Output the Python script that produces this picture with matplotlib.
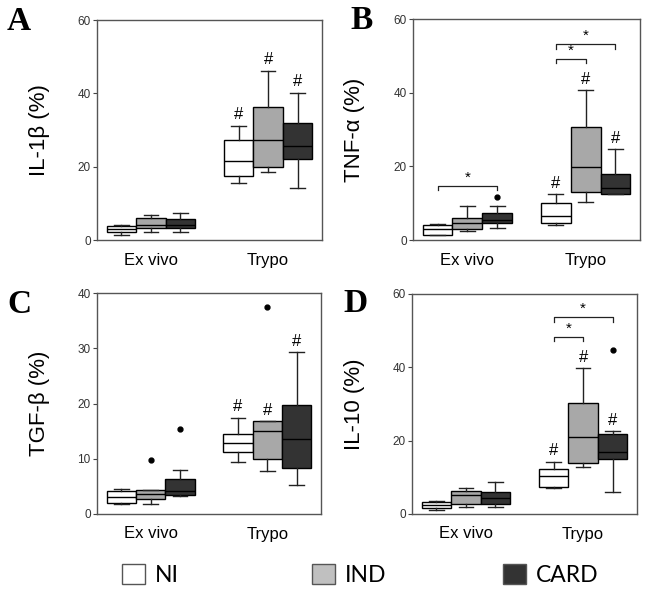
import numpy as np
import matplotlib
matplotlib.use('Agg')
import matplotlib.pyplot as plt
from matplotlib.patches import Patch

plt.rcParams['font.family'] = 'Liberation Sans'

groups = ['Ex vivo', 'Trypo']
series = ['NI', 'IND', 'CARD']
box_colors = ['#ffffff', '#a8a8a8', '#333333']
legend_colors = ['#ffffff', '#c0c0c0', '#333333']

# per box: [whisker low, q1, median, q3, whisker high]
# order: Ex vivo NI, IND, CARD, Trypo NI, IND, CARD
il1b = [[1.5, 2.3, 2.9, 3.8, 4.0],
        [2.2, 3.3, 4.0, 6.0, 6.8],
        [2.1, 3.3, 4.0, 5.7, 7.5],
        [15.5, 17.5, 21.5, 27.3, 31.1],
        [18.5, 19.9, 27.3, 36.3, 46.2],
        [14.3, 22.2, 25.6, 32.0, 40.2]]
tnfa = [[1.4, 1.4, 2.9, 4.0, 4.3],
        [2.5, 2.9, 4.5, 5.9, 9.3],
        [3.2, 4.6, 5.4, 7.2, 9.3],
        [4.0, 4.7, 6.5, 10.0, 12.4],
        [10.2, 13.1, 19.8, 30.8, 40.7],
        [12.4, 12.4, 14.1, 18.0, 24.7]]
tgfb = [[1.9, 2.0, 3.1, 4.2, 4.5],
        [1.9, 2.8, 3.6, 4.3, 4.4],
        [3.3, 3.5, 4.2, 6.4, 7.9],
        [9.4, 11.3, 12.9, 14.4, 17.4],
        [7.7, 9.9, 15.0, 16.8, 16.8],
        [5.3, 8.3, 13.5, 19.8, 29.3]]
il10 = [[1.0, 1.6, 2.5, 3.3, 3.5],
        [1.8, 2.7, 5.3, 6.3, 7.1],
        [1.8, 2.8, 4.4, 6.1, 8.8],
        [7.1, 7.4, 10.3, 12.3, 14.3],
        [12.8, 13.9, 21.0, 30.4, 39.7],
        [6.1, 15.0, 17.0, 21.7, 22.6]]

il1b_out = [[], [], [], [], [], []]
tnfa_out = [[], [], [11.8], [], [], []]
tgfb_out = [[], [9.8], [15.4], [], [37.5], []]
il10_out = [[], [], [], [], [], [44.7]]

# boxes marked with '#'
hash_marks = [3, 4, 5]

# significance brackets: (box from, box to, height)
il1b_sig = []
tnfa_sig = [(0, 2, 14.7), (3, 4, 49.1), (3, 5, 53.1)]
tgfb_sig = []
il10_sig = [(3, 4, 48.2), (3, 5, 53.6)]

panels = [('A', 'IL-1β (%)', il1b, il1b_out, il1b_sig, 60),
          ('B', 'TNF-α (%)', tnfa, tnfa_out, tnfa_sig, 60),
          ('C', 'TGF-β (%)', tgfb, tgfb_out, tgfb_sig, 40),
          ('D', 'IL-10 (%)', il10, il10_out, il10_sig, 60)]

W, H = 646, 592
fig = plt.figure(figsize=(W / 100, H / 100), dpi=100)

# axes boxes in pixels: left, top, right, bottom
ax_px = [(97, 20, 322, 240), (413, 19, 640, 240),
         (97, 293, 321, 514), (412, 294, 637, 514)]
letter_px = [(7, 6), (350, 5), (7, 289), (343, 288)]

w = 0.252
pos = [g + (s - 1) * w for g in range(len(groups)) for s in range(len(series))]

for (letter, ylab, data, outl, sig, ymax), (l, t, r, b), (lx, ly) in zip(panels, ax_px, letter_px):
    ax = fig.add_axes([l / W, 1 - b / H, (r - l) / W, (b - t) / H])
    stats = []
    for d, o in zip(data, outl):
        stats.append(dict(whislo=d[0], q1=d[1], med=d[2], q3=d[3], whishi=d[4], fliers=o))
    bp = ax.bxp(stats, positions=pos, widths=w, patch_artist=True, showfliers=True,
                boxprops=dict(linewidth=1.0, edgecolor='black'),
                medianprops=dict(color='black', linewidth=1.0),
                whiskerprops=dict(color='#222222', linewidth=1.0),
                capprops=dict(color='#222222', linewidth=1.0),
                flierprops=dict(marker='o', markerfacecolor='black', markeredgecolor='black',
                                markersize=3.5))
    for i, patch in enumerate(bp['boxes']):
        patch.set_facecolor(box_colors[i % 3])

    for i in hash_marks:
        ax.annotate('#', (pos[i], data[i][4]), xytext=(0, 2.5), textcoords='offset points',
                    ha='center', va='bottom', fontsize=12)

    tick = ymax * 0.019
    for i0, i1, y in sig:
        ax.plot([pos[i0], pos[i0], pos[i1], pos[i1]], [y - tick, y, y, y - tick],
                color='#222222', lw=0.9)
        ax.annotate('*', ((pos[i0] + pos[i1]) / 2, y), xytext=(0, 1), textcoords='offset points',
                    ha='center', va='bottom', fontsize=11)

    ax.set_xlim(-0.46, 1.46)
    ax.set_ylim(0, ymax)
    ax.set_yticks(np.arange(0, ymax + 1, 20 if ymax == 60 else 10))
    ax.set_xticks([0, 1])
    ax.set_xticklabels(groups, fontsize=12)
    ax.tick_params(axis='x', length=0, pad=9)
    ax.tick_params(axis='y', length=3, width=0.8, pad=1.5, labelsize=8.5,
                   color='#444444', labelcolor='#333333')
    for sp in ax.spines.values():
        sp.set_color('#555555')
        sp.set_linewidth(1.0)
    ax.set_ylabel(ylab, fontsize=16)
    ax.yaxis.set_label_coords(-0.21, 0.5)

    fig.text(lx / W, 1 - ly / H, letter, fontsize=24, fontweight='bold',
             family='Liberation Serif', ha='left', va='top')

# legend, one entry at a time so the squares sit where they do in the figure
leg_x = [122, 312, 503]
for name, col, x in zip(series, legend_colors, leg_x):
    h = Patch(facecolor=col, edgecolor='#555555', linewidth=1.0)
    fig.legend([h], [name], loc='center left', bbox_to_anchor=(x / W, 1 - 575 / H),
               frameon=False, handlelength=1.0, handleheight=1.0,
               handletextpad=0.45, borderpad=0, borderaxespad=0,
               prop=dict(family='Lato', size=16.5))

fig.savefig('out.png', dpi=100)
